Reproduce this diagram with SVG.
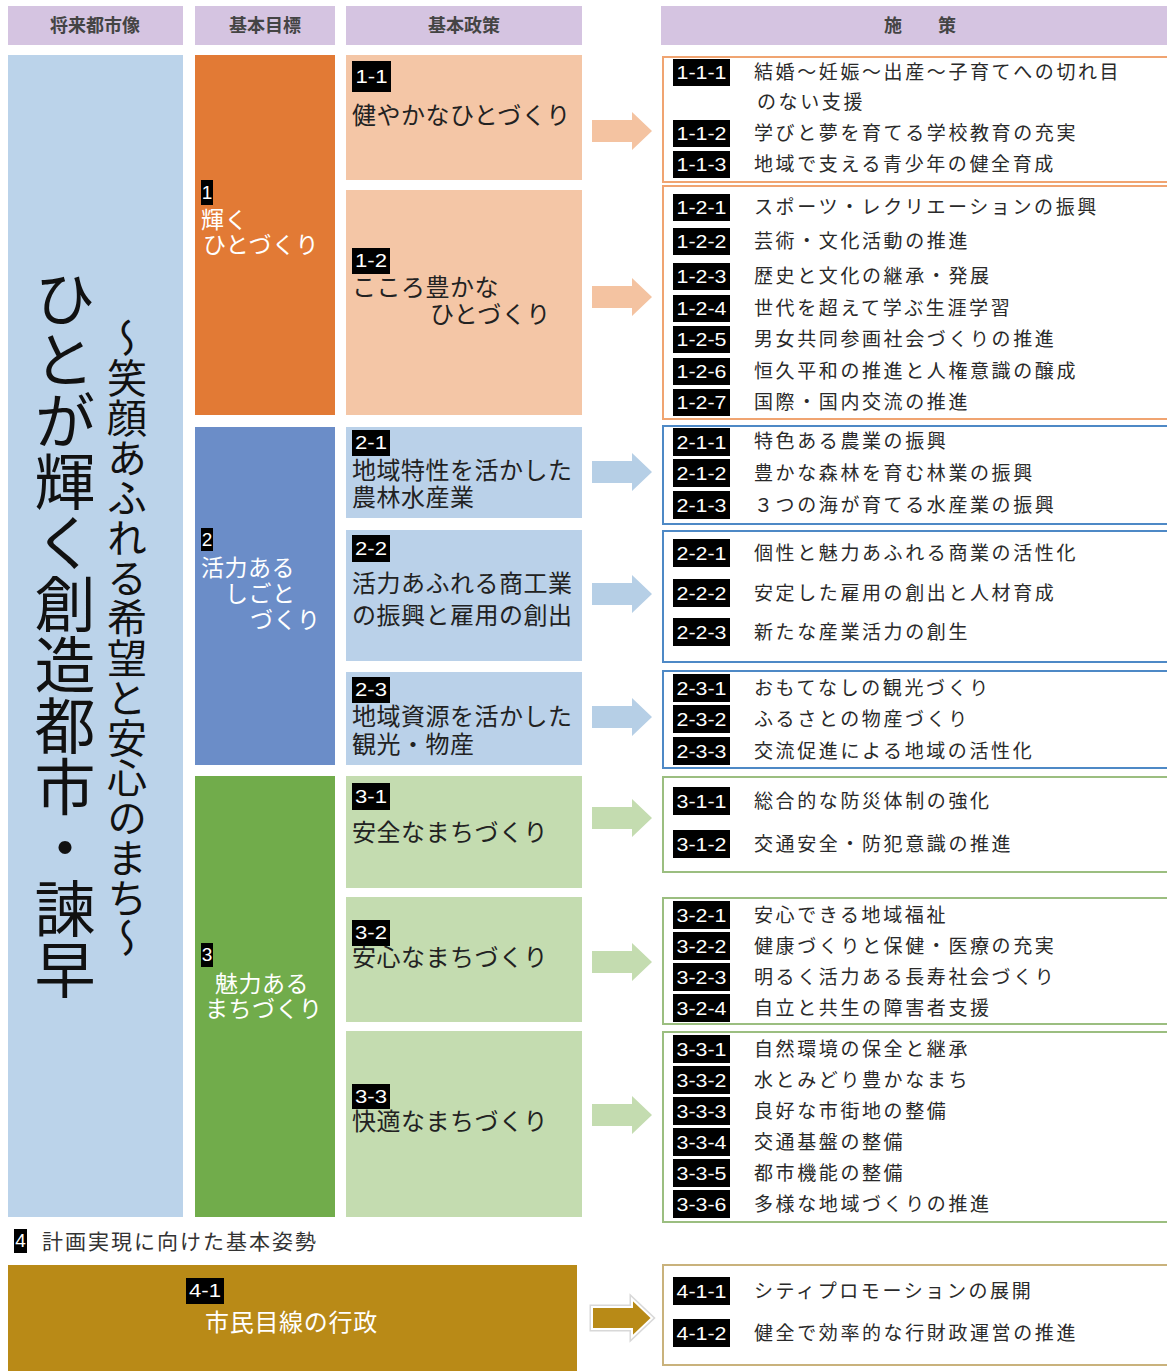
<svg xmlns="http://www.w3.org/2000/svg" width="1167" height="1371" viewBox="0 0 1167 1371">
<style>
text{font-family:"Noto Sans CJK JP","Noto Sans",sans-serif}
.hdr{fill:#D5C4E1}
.ht{font-size:18px;fill:#444;text-anchor:middle;font-weight:bold}
.pt{font-size:24px;fill:#222;letter-spacing:0.5px}
.gt{font-size:23px;fill:#fff;letter-spacing:0.5px}
.mt{font-size:19px;fill:#2a2a2a;letter-spacing:2.6px}
.lb{fill:#000}
.lt{font-family:"Liberation Sans",sans-serif;fill:#fff;font-size:19px;text-anchor:middle}
.mb1{fill:#fff;stroke:#F0A471;stroke-width:2}
.mb2{fill:#fff;stroke:#4E89C6;stroke-width:2}
.mb3{fill:#fff;stroke:#9BBE80;stroke-width:2}
.mb4{fill:#fff;stroke:#C9B27C;stroke-width:2}
</style>
<rect width="1167" height="1371" fill="#fff"/>
<g id="headers">
<rect class="hdr" x="8" y="6" width="175" height="39"/>
<text class="ht" x="95" y="32">将来都市像</text>
<rect class="hdr" x="195" y="6" width="140" height="39"/>
<text class="ht" x="265" y="32">基本目標</text>
<rect class="hdr" x="346" y="6" width="236" height="39"/>
<text class="ht" x="464" y="32">基本政策</text>
<rect class="hdr" x="661" y="6" width="506" height="39"/>
<text class="ht" x="920" y="32">施　　策</text>
</g>
<g id="vision">
<rect x="8" y="55" width="175" height="1162" fill="#BBD3EA"/>
<text x="65" y="268" font-size="61" fill="#111" writing-mode="vertical-rl">ひとが輝く創造都市・諫早</text>
<text x="127" y="318" font-size="40" fill="#111" writing-mode="vertical-rl">～笑顔あふれる希望と安心のまち～</text>
</g>
<g id="goal1">
<rect x="195" y="55" width="140" height="360" fill="#E27A35"/>
<rect class="lb" x="201" y="180" width="12" height="25"/>
<text class="lt" x="207" y="199" font-size="17">1</text>
<text class="gt" x="201" y="228">輝く</text>
<text class="gt" x="203" y="253">ひとづくり</text>
</g>
<g id="goal2">
<rect x="195" y="427" width="140" height="338" fill="#6B8DC8"/>
<rect class="lb" x="201" y="528" width="12" height="23"/>
<text class="lt" x="207" y="546" font-size="17">2</text>
<text class="gt" x="201" y="576">活力ある</text>
<text class="gt" x="225" y="602">しごと</text>
<text class="gt" x="250" y="628">づくり</text>
</g>
<g id="goal3">
<rect x="195" y="776" width="140" height="441" fill="#71AC4B"/>
<rect class="lb" x="201" y="943" width="12" height="24"/>
<text class="lt" x="207" y="961" font-size="17">3</text>
<text class="gt" x="215" y="992">魅力ある</text>
<text class="gt" x="205" y="1017">まちづくり</text>
</g>
<g id="policy1-1">
<rect x="346" y="55" width="236" height="125" fill="#F4C6A6"/>
<rect class="lb" x="352" y="61" width="39" height="31"/>
<text class="lt" x="371.5" y="83" textLength="32" lengthAdjust="spacingAndGlyphs">1-1</text>
<text class="pt" x="352" y="124">健やかなひとづくり</text>
</g>
<g id="policy1-2">
<rect x="346" y="190" width="236" height="225" fill="#F4C6A6"/>
<rect class="lb" x="352" y="248" width="38" height="26"/>
<text class="lt" x="371" y="267" textLength="32" lengthAdjust="spacingAndGlyphs">1-2</text>
<text class="pt" x="352" y="296">こころ豊かな</text>
<text class="pt" x="430" y="323">ひとづくり</text>
</g>
<g id="policy2-1">
<rect x="346" y="427" width="236" height="91" fill="#BAD1E9"/>
<rect class="lb" x="352" y="430" width="38" height="26"/>
<text class="lt" x="371" y="449" textLength="32" lengthAdjust="spacingAndGlyphs">2-1</text>
<text class="pt" x="352" y="479">地域特性を活かした</text>
<text class="pt" x="352" y="506">農林水産業</text>
</g>
<g id="policy2-2">
<rect x="346" y="530" width="236" height="131" fill="#BAD1E9"/>
<rect class="lb" x="352" y="535" width="38" height="27"/>
<text class="lt" x="371" y="555" textLength="32" lengthAdjust="spacingAndGlyphs">2-2</text>
<text class="pt" x="352" y="592">活力あふれる商工業</text>
<text class="pt" x="352" y="624">の振興と雇用の創出</text>
</g>
<g id="policy2-3">
<rect x="346" y="672" width="236" height="93" fill="#BAD1E9"/>
<rect class="lb" x="352" y="677" width="38" height="26"/>
<text class="lt" x="371" y="696" textLength="32" lengthAdjust="spacingAndGlyphs">2-3</text>
<text class="pt" x="352" y="725">地域資源を活かした</text>
<text class="pt" x="352" y="753">観光・物産</text>
</g>
<g id="policy3-1">
<rect x="346" y="776" width="236" height="112" fill="#C4DCB0"/>
<rect class="lb" x="352" y="783" width="38" height="27"/>
<text class="lt" x="371" y="803" textLength="32" lengthAdjust="spacingAndGlyphs">3-1</text>
<text class="pt" x="352" y="841">安全なまちづくり</text>
</g>
<g id="policy3-2">
<rect x="346" y="897" width="236" height="125" fill="#C4DCB0"/>
<rect class="lb" x="352" y="920" width="38" height="26"/>
<text class="lt" x="371" y="939" textLength="32" lengthAdjust="spacingAndGlyphs">3-2</text>
<text class="pt" x="352" y="966">安心なまちづくり</text>
</g>
<g id="policy3-3">
<rect x="346" y="1031" width="236" height="186" fill="#C4DCB0"/>
<rect class="lb" x="352" y="1084" width="38" height="25"/>
<text class="lt" x="371" y="1103" textLength="32" lengthAdjust="spacingAndGlyphs">3-3</text>
<text class="pt" x="352" y="1130">快適なまちづくり</text>
</g>
<g id="stance4">
<rect class="lb" x="14" y="1229" width="13" height="24"/>
<text class="lt" x="20.5" y="1247" font-size="17">4</text>
<text x="42" y="1249" font-size="21" fill="#333" letter-spacing="2">計画実現に向けた基本姿勢</text>
</g>
<g id="policy4-1">
<rect x="8" y="1265" width="569" height="106" fill="#B98A17"/>
<rect class="lb" x="186" y="1278" width="38" height="26"/>
<text class="lt" x="205" y="1297" textLength="32" lengthAdjust="spacingAndGlyphs">4-1</text>
<text x="205" y="1331" font-size="24" fill="#fff" letter-spacing="0.7">市民目線の行政</text>
</g>
<g id="measures1-1">
<rect class="mb1" x="663" y="57" width="510" height="125"/>
<rect class="lb" x="673" y="59" width="57" height="27"/><text class="lt" x="701.5" y="79" textLength="50" lengthAdjust="spacingAndGlyphs">1-1-1</text>
<text class="mt" x="754" y="79">結婚～妊娠～出産～子育てへの切れ目</text>
<text class="mt" x="757" y="109">のない支援</text>
<rect class="lb" x="673" y="120" width="57" height="27"/><text class="lt" x="701.5" y="140" textLength="50" lengthAdjust="spacingAndGlyphs">1-1-2</text>
<text class="mt" x="754" y="140">学びと夢を育てる学校教育の充実</text>
<rect class="lb" x="673" y="151" width="57" height="27"/><text class="lt" x="701.5" y="171" textLength="50" lengthAdjust="spacingAndGlyphs">1-1-3</text>
<text class="mt" x="754" y="171">地域で支える青少年の健全育成</text>
</g>
<g id="measures1-2">
<rect class="mb1" x="663" y="186" width="510" height="233"/>
<rect class="lb" x="673" y="194" width="57" height="27"/><text class="lt" x="701.5" y="214" textLength="50" lengthAdjust="spacingAndGlyphs">1-2-1</text>
<text class="mt" x="754" y="214">スポーツ・レクリエーションの振興</text>
<rect class="lb" x="673" y="228" width="57" height="27"/><text class="lt" x="701.5" y="248" textLength="50" lengthAdjust="spacingAndGlyphs">1-2-2</text>
<text class="mt" x="754" y="248">芸術・文化活動の推進</text>
<rect class="lb" x="673" y="263" width="57" height="27"/><text class="lt" x="701.5" y="283" textLength="50" lengthAdjust="spacingAndGlyphs">1-2-3</text>
<text class="mt" x="754" y="283">歴史と文化の継承・発展</text>
<rect class="lb" x="673" y="295" width="57" height="27"/><text class="lt" x="701.5" y="315" textLength="50" lengthAdjust="spacingAndGlyphs">1-2-4</text>
<text class="mt" x="754" y="315">世代を超えて学ぶ生涯学習</text>
<rect class="lb" x="673" y="326" width="57" height="27"/><text class="lt" x="701.5" y="346" textLength="50" lengthAdjust="spacingAndGlyphs">1-2-5</text>
<text class="mt" x="754" y="346">男女共同参画社会づくりの推進</text>
<rect class="lb" x="673" y="358" width="57" height="27"/><text class="lt" x="701.5" y="378" textLength="50" lengthAdjust="spacingAndGlyphs">1-2-6</text>
<text class="mt" x="754" y="378">恒久平和の推進と人権意識の醸成</text>
<rect class="lb" x="673" y="389" width="57" height="27"/><text class="lt" x="701.5" y="409" textLength="50" lengthAdjust="spacingAndGlyphs">1-2-7</text>
<text class="mt" x="754" y="409">国際・国内交流の推進</text>
</g>
<g id="measures2-1">
<rect class="mb2" x="663" y="426" width="510" height="98"/>
<rect class="lb" x="673" y="428" width="57" height="28"/><text class="lt" x="701.5" y="449" textLength="50" lengthAdjust="spacingAndGlyphs">2-1-1</text>
<text class="mt" x="754" y="448">特色ある農業の振興</text>
<rect class="lb" x="673" y="459" width="57" height="28"/><text class="lt" x="701.5" y="480" textLength="50" lengthAdjust="spacingAndGlyphs">2-1-2</text>
<text class="mt" x="754" y="480">豊かな森林を育む林業の振興</text>
<rect class="lb" x="673" y="491" width="57" height="28"/><text class="lt" x="701.5" y="512" textLength="50" lengthAdjust="spacingAndGlyphs">2-1-3</text>
<text class="mt" x="754" y="512">３つの海が育てる水産業の振興</text>
</g>
<g id="measures2-2">
<rect class="mb2" x="663" y="531" width="510" height="131"/>
<rect class="lb" x="673" y="539" width="57" height="28"/><text class="lt" x="701.5" y="560" textLength="50" lengthAdjust="spacingAndGlyphs">2-2-1</text>
<text class="mt" x="754" y="560">個性と魅力あふれる商業の活性化</text>
<rect class="lb" x="673" y="579" width="57" height="28"/><text class="lt" x="701.5" y="600" textLength="50" lengthAdjust="spacingAndGlyphs">2-2-2</text>
<text class="mt" x="754" y="600">安定した雇用の創出と人材育成</text>
<rect class="lb" x="673" y="618" width="57" height="28"/><text class="lt" x="701.5" y="639" textLength="50" lengthAdjust="spacingAndGlyphs">2-2-3</text>
<text class="mt" x="754" y="639">新たな産業活力の創生</text>
</g>
<g id="measures2-3">
<rect class="mb2" x="663" y="671" width="510" height="97"/>
<rect class="lb" x="673" y="674" width="57" height="28"/><text class="lt" x="701.5" y="695" textLength="50" lengthAdjust="spacingAndGlyphs">2-3-1</text>
<text class="mt" x="754" y="695">おもてなしの観光づくり</text>
<rect class="lb" x="673" y="705" width="57" height="28"/><text class="lt" x="701.5" y="726" textLength="50" lengthAdjust="spacingAndGlyphs">2-3-2</text>
<text class="mt" x="754" y="726">ふるさとの物産づくり</text>
<rect class="lb" x="673" y="737" width="57" height="28"/><text class="lt" x="701.5" y="758" textLength="50" lengthAdjust="spacingAndGlyphs">2-3-3</text>
<text class="mt" x="754" y="758">交流促進による地域の活性化</text>
</g>
<g id="measures3-1">
<rect class="mb3" x="663" y="777" width="510" height="95"/>
<rect class="lb" x="673" y="787" width="57" height="28"/><text class="lt" x="701.5" y="808" textLength="50" lengthAdjust="spacingAndGlyphs">3-1-1</text>
<text class="mt" x="754" y="808">総合的な防災体制の強化</text>
<rect class="lb" x="673" y="830" width="57" height="28"/><text class="lt" x="701.5" y="851" textLength="50" lengthAdjust="spacingAndGlyphs">3-1-2</text>
<text class="mt" x="754" y="851">交通安全・防犯意識の推進</text>
</g>
<g id="measures3-2">
<rect class="mb3" x="663" y="898" width="510" height="126"/>
<rect class="lb" x="673" y="901" width="57" height="28"/><text class="lt" x="701.5" y="922" textLength="50" lengthAdjust="spacingAndGlyphs">3-2-1</text>
<text class="mt" x="754" y="922">安心できる地域福祉</text>
<rect class="lb" x="673" y="932" width="57" height="28"/><text class="lt" x="701.5" y="953" textLength="50" lengthAdjust="spacingAndGlyphs">3-2-2</text>
<text class="mt" x="754" y="953">健康づくりと保健・医療の充実</text>
<rect class="lb" x="673" y="963" width="57" height="28"/><text class="lt" x="701.5" y="984" textLength="50" lengthAdjust="spacingAndGlyphs">3-2-3</text>
<text class="mt" x="754" y="984">明るく活力ある長寿社会づくり</text>
<rect class="lb" x="673" y="994" width="57" height="28"/><text class="lt" x="701.5" y="1015" textLength="50" lengthAdjust="spacingAndGlyphs">3-2-4</text>
<text class="mt" x="754" y="1015">自立と共生の障害者支援</text>
</g>
<g id="measures3-3">
<rect class="mb3" x="663" y="1032" width="510" height="190"/>
<rect class="lb" x="673" y="1035" width="57" height="28"/><text class="lt" x="701.5" y="1056" textLength="50" lengthAdjust="spacingAndGlyphs">3-3-1</text>
<text class="mt" x="754" y="1056">自然環境の保全と継承</text>
<rect class="lb" x="673" y="1066" width="57" height="28"/><text class="lt" x="701.5" y="1087" textLength="50" lengthAdjust="spacingAndGlyphs">3-3-2</text>
<text class="mt" x="754" y="1087">水とみどり豊かなまち</text>
<rect class="lb" x="673" y="1097" width="57" height="28"/><text class="lt" x="701.5" y="1118" textLength="50" lengthAdjust="spacingAndGlyphs">3-3-3</text>
<text class="mt" x="754" y="1118">良好な市街地の整備</text>
<rect class="lb" x="673" y="1128" width="57" height="28"/><text class="lt" x="701.5" y="1149" textLength="50" lengthAdjust="spacingAndGlyphs">3-3-4</text>
<text class="mt" x="754" y="1149">交通基盤の整備</text>
<rect class="lb" x="673" y="1159" width="57" height="28"/><text class="lt" x="701.5" y="1180" textLength="50" lengthAdjust="spacingAndGlyphs">3-3-5</text>
<text class="mt" x="754" y="1180">都市機能の整備</text>
<rect class="lb" x="673" y="1190" width="57" height="28"/><text class="lt" x="701.5" y="1211" textLength="50" lengthAdjust="spacingAndGlyphs">3-3-6</text>
<text class="mt" x="754" y="1211">多様な地域づくりの推進</text>
</g>
<g id="measures4-1">
<rect class="mb4" x="663" y="1265" width="510" height="100"/>
<rect class="lb" x="673" y="1277" width="57" height="28"/><text class="lt" x="701.5" y="1298" textLength="50" lengthAdjust="spacingAndGlyphs">4-1-1</text>
<text class="mt" x="754" y="1298">シティプロモーションの展開</text>
<rect class="lb" x="673" y="1319" width="57" height="28"/><text class="lt" x="701.5" y="1340" textLength="50" lengthAdjust="spacingAndGlyphs">4-1-2</text>
<text class="mt" x="754" y="1340">健全で効率的な行財政運営の推進</text>
</g>
<defs>
<polygon id="arr" points="0,-11 40,-11 40,-19 60,0 40,19 40,11 0,11"/>
</defs>
<g id="connectors">
<use href="#arr" x="592" y="131" fill="#F4C3A1"/>
<use href="#arr" x="592" y="297" fill="#F4C3A1"/>
<use href="#arr" x="592" y="472" fill="#B6CFE6"/>
<use href="#arr" x="592" y="594" fill="#B6CFE6"/>
<use href="#arr" x="592" y="717" fill="#B6CFE6"/>
<use href="#arr" x="592" y="818" fill="#C4DCB0"/>
<use href="#arr" x="592" y="962" fill="#C4DCB0"/>
<use href="#arr" x="592" y="1115" fill="#C4DCB0"/>
<use href="#arr" x="592" y="1318" fill="none" stroke="#D8D8D8" stroke-width="5"/>
<use href="#arr" x="592" y="1318" fill="#B88A17" stroke="#fff" stroke-width="2"/>
</g>
</svg>
